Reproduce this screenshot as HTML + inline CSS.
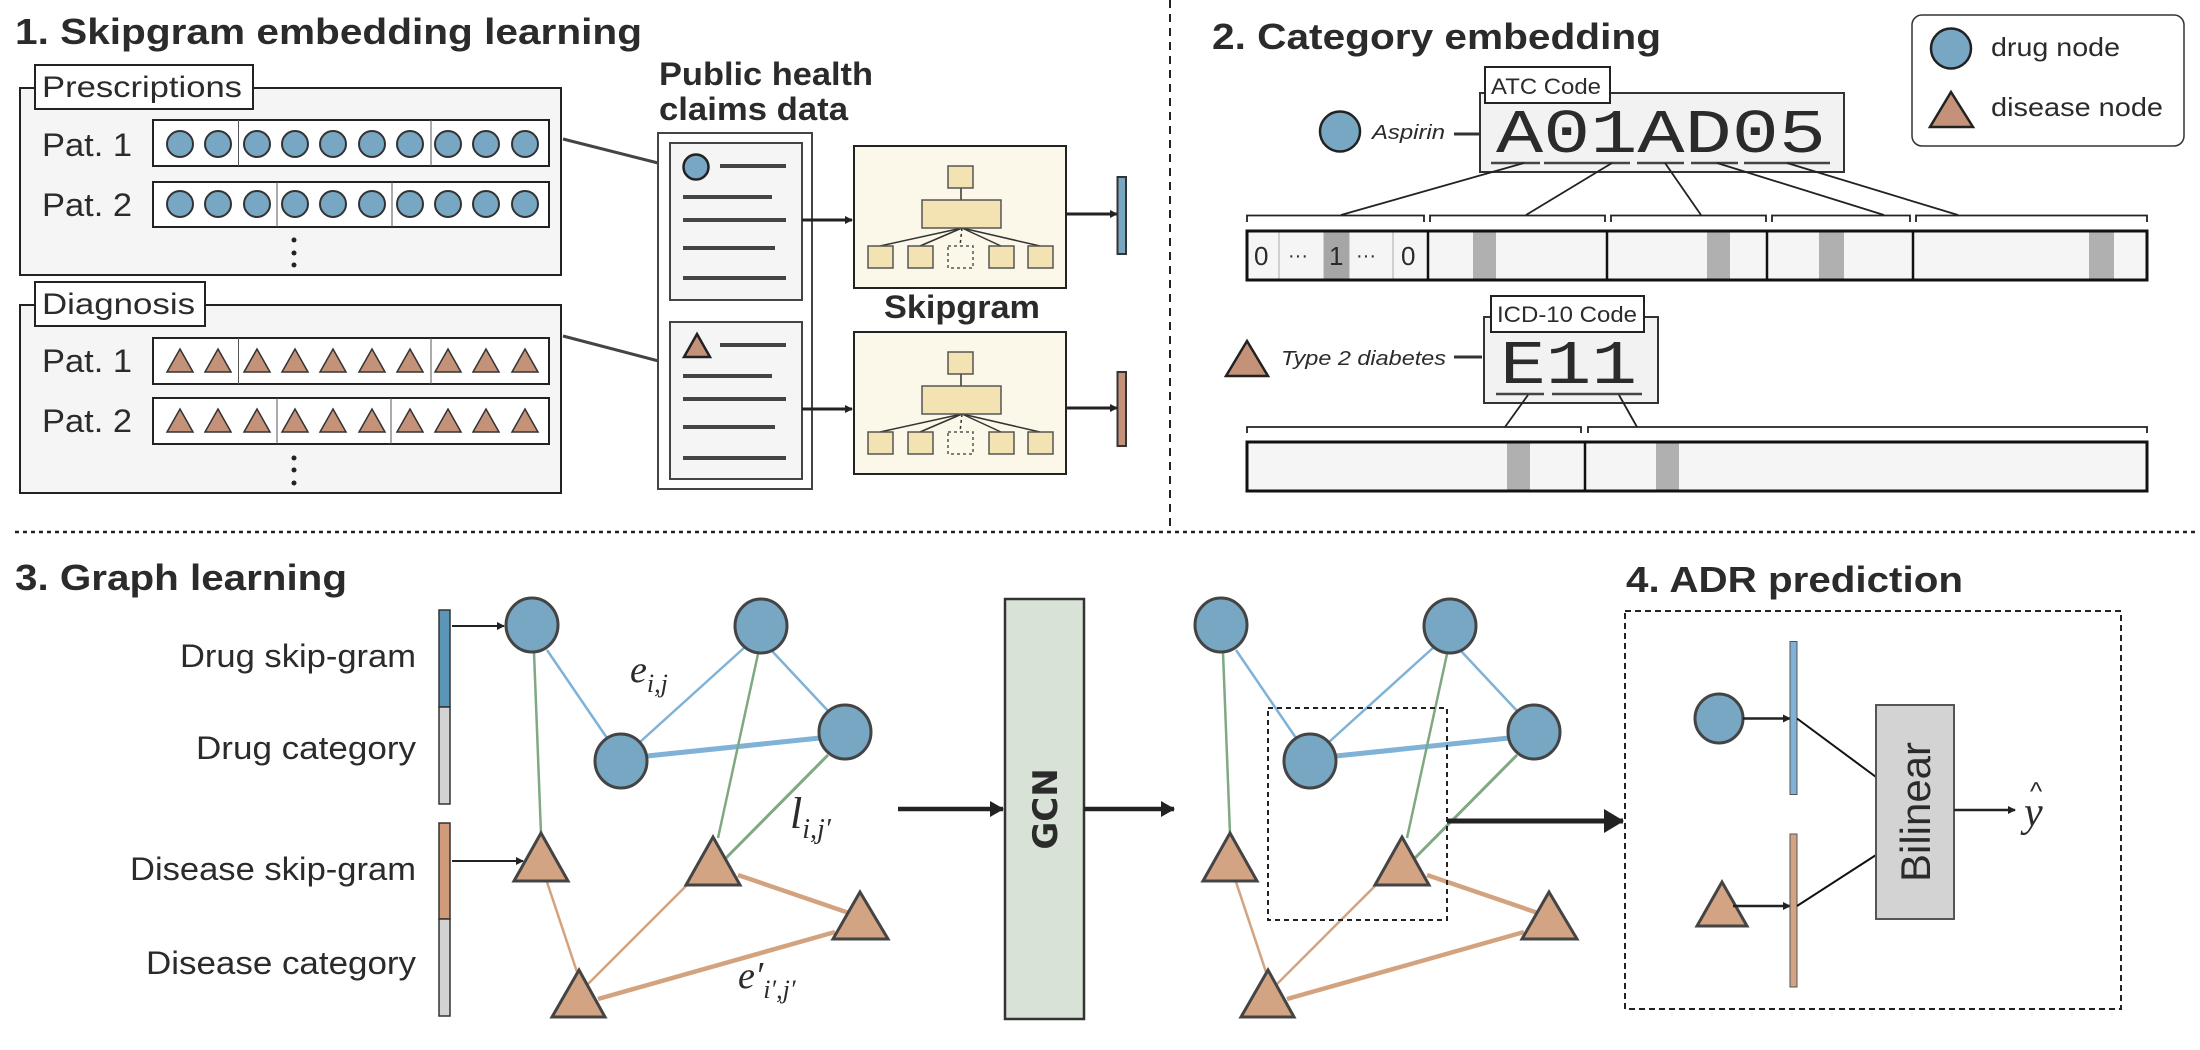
<!DOCTYPE html>
<html><head><meta charset="utf-8"><style>
html,body{margin:0;padding:0;background:#fff;}
svg{display:block;}
text{font-family:"Liberation Sans",sans-serif;fill:#2b2b2b;}
.t{font-weight:bold;font-size:36px;}
.m{font-family:"Liberation Serif",serif;font-style:italic;}
</style></head><body>
<svg width="2200" height="1050" viewBox="0 0 2200 1050" xmlns="http://www.w3.org/2000/svg">
<defs>
<marker id="ah" markerWidth="8" markerHeight="8" refX="7" refY="4" orient="auto" markerUnits="userSpaceOnUse"><path d="M0,0 L8,4 L0,8 z" fill="#222"/></marker>
<marker id="ahb" markerWidth="14" markerHeight="16" refX="13" refY="8" orient="auto" markerUnits="userSpaceOnUse"><path d="M0,0 L14,8 L0,16 z" fill="#222"/></marker>
<marker id="ahc" markerWidth="20" markerHeight="24" refX="19" refY="12" orient="auto" markerUnits="userSpaceOnUse"><path d="M0,0 L20,12 L0,24 z" fill="#222"/></marker>
<g id="circ"><circle r="13" fill="#77a7c2" stroke="#333" stroke-width="2"/></g>
<g id="tri"><path d="M0,-12 L13,11 L-13,11 z" fill="#c49278" stroke="#333" stroke-width="1.5"/></g>
</defs>

<line x1="1170" y1="0" x2="1170" y2="532" stroke="#222" stroke-width="2" stroke-dasharray="8,6"/>
<line x1="15" y1="532" x2="2195" y2="532" stroke="#222" stroke-width="2.5" stroke-dasharray="4,4"/>

<text class="t" x="15" y="44" textLength="627" lengthAdjust="spacingAndGlyphs">1. Skipgram embedding learning</text>

<rect x="20" y="88" width="541" height="187" fill="#f5f5f5" stroke="#222" stroke-width="2"/>
<rect x="35" y="65" width="218" height="44" fill="#fff" stroke="#222" stroke-width="2"/>
<text x="42" y="97" font-size="30" textLength="200" lengthAdjust="spacingAndGlyphs">Prescriptions</text>
<text x="42" y="156" font-size="32" textLength="90" lengthAdjust="spacingAndGlyphs">Pat. 1</text>
<text x="42" y="216" font-size="32" textLength="90" lengthAdjust="spacingAndGlyphs">Pat. 2</text>
<rect x="153" y="120" width="396" height="46" fill="#fff" stroke="#222" stroke-width="2"/>
<line x1="238.5" y1="120" x2="238.5" y2="166" stroke="#555"/><line x1="431" y1="120" x2="431" y2="166" stroke="#555"/>
<rect x="153" y="182" width="396" height="45" fill="#fff" stroke="#222" stroke-width="2"/>
<line x1="277" y1="182" x2="277" y2="227" stroke="#555"/><line x1="392" y1="182" x2="392" y2="227" stroke="#555"/>
<g>
<use href="#circ" x="180" y="144"/><use href="#circ" x="218" y="144"/><use href="#circ" x="257" y="144"/><use href="#circ" x="295" y="144"/><use href="#circ" x="333" y="144"/><use href="#circ" x="372" y="144"/><use href="#circ" x="410" y="144"/><use href="#circ" x="448" y="144"/><use href="#circ" x="486" y="144"/><use href="#circ" x="525" y="144"/>
<use href="#circ" x="180" y="204"/><use href="#circ" x="218" y="204"/><use href="#circ" x="257" y="204"/><use href="#circ" x="295" y="204"/><use href="#circ" x="333" y="204"/><use href="#circ" x="372" y="204"/><use href="#circ" x="410" y="204"/><use href="#circ" x="448" y="204"/><use href="#circ" x="486" y="204"/><use href="#circ" x="525" y="204"/>
</g>
<circle cx="294" cy="240" r="2.5" fill="#222"/><circle cx="294" cy="253" r="2.5" fill="#222"/><circle cx="294" cy="265" r="2.5" fill="#222"/>

<rect x="20" y="305" width="541" height="188" fill="#f5f5f5" stroke="#222" stroke-width="2"/>
<rect x="35" y="282" width="170" height="44" fill="#fff" stroke="#222" stroke-width="2"/>
<text x="42" y="314" font-size="30" textLength="153" lengthAdjust="spacingAndGlyphs">Diagnosis</text>
<text x="42" y="372" font-size="32" textLength="90" lengthAdjust="spacingAndGlyphs">Pat. 1</text>
<text x="42" y="432" font-size="32" textLength="90" lengthAdjust="spacingAndGlyphs">Pat. 2</text>
<rect x="153" y="338" width="396" height="46" fill="#fff" stroke="#222" stroke-width="2"/>
<line x1="238.5" y1="338" x2="238.5" y2="384" stroke="#555"/><line x1="431" y1="338" x2="431" y2="384" stroke="#555"/>
<rect x="153" y="398" width="396" height="46" fill="#fff" stroke="#222" stroke-width="2"/>
<line x1="277" y1="398" x2="277" y2="444" stroke="#555"/><line x1="391" y1="398" x2="391" y2="444" stroke="#555"/>
<g>
<use href="#tri" x="180" y="361"/><use href="#tri" x="218" y="361"/><use href="#tri" x="257" y="361"/><use href="#tri" x="295" y="361"/><use href="#tri" x="333" y="361"/><use href="#tri" x="372" y="361"/><use href="#tri" x="410" y="361"/><use href="#tri" x="448" y="361"/><use href="#tri" x="486" y="361"/><use href="#tri" x="525" y="361"/>
<use href="#tri" x="180" y="421"/><use href="#tri" x="218" y="421"/><use href="#tri" x="257" y="421"/><use href="#tri" x="295" y="421"/><use href="#tri" x="333" y="421"/><use href="#tri" x="372" y="421"/><use href="#tri" x="410" y="421"/><use href="#tri" x="448" y="421"/><use href="#tri" x="486" y="421"/><use href="#tri" x="525" y="421"/>
</g>
<circle cx="294" cy="458" r="2.5" fill="#222"/><circle cx="294" cy="470" r="2.5" fill="#222"/><circle cx="294" cy="483" r="2.5" fill="#222"/>

<line x1="563" y1="139" x2="670" y2="166" stroke="#444" stroke-width="3"/>
<line x1="563" y1="336" x2="670" y2="364" stroke="#444" stroke-width="3"/>

<text class="t" x="659" y="85" style="font-size:32px" textLength="214" lengthAdjust="spacingAndGlyphs">Public health</text>
<text class="t" x="659" y="120" style="font-size:32px" textLength="189" lengthAdjust="spacingAndGlyphs">claims data</text>
<rect x="658" y="133" width="154" height="356" fill="#fff" stroke="#444" stroke-width="2"/>
<rect x="670" y="143" width="132" height="157" fill="#f5f5f5" stroke="#444" stroke-width="2"/>
<circle cx="696" cy="167" r="12.5" fill="#77a7c2" stroke="#222" stroke-width="2.5"/>
<g stroke="#444" stroke-width="4">
<line x1="720" y1="166" x2="786" y2="166"/><line x1="683" y1="197" x2="772" y2="197"/><line x1="683" y1="220" x2="786" y2="220"/><line x1="683" y1="248" x2="775" y2="248"/><line x1="683" y1="278" x2="786" y2="278"/>
</g>
<rect x="670" y="322" width="132" height="157" fill="#f5f5f5" stroke="#444" stroke-width="2"/>
<path d="M697,334 L710,357 L684,357 z" fill="#c49278" stroke="#222" stroke-width="2.5"/>
<g stroke="#444" stroke-width="4">
<line x1="720" y1="345" x2="786" y2="345"/><line x1="683" y1="376" x2="772" y2="376"/><line x1="683" y1="399" x2="786" y2="399"/><line x1="683" y1="427" x2="775" y2="427"/><line x1="683" y1="458" x2="786" y2="458"/>
</g>
<line x1="802" y1="220" x2="852" y2="220" stroke="#222" stroke-width="3" marker-end="url(#ah)"/>
<line x1="802" y1="409" x2="852" y2="409" stroke="#222" stroke-width="3" marker-end="url(#ah)"/>

<g id="sg">
<rect x="854" y="146" width="212" height="142" fill="#fcf8e9" stroke="#222" stroke-width="2"/>
<g stroke="#333" stroke-width="1.5">
<line x1="961" y1="188" x2="961" y2="200"/>
<line x1="962" y1="228" x2="880" y2="246"/><line x1="962" y1="228" x2="920" y2="246"/><line x1="962" y1="228" x2="1001" y2="246"/><line x1="962" y1="228" x2="1040" y2="246"/>
<line x1="962" y1="228" x2="960" y2="246" stroke-dasharray="3,3"/>
</g>
<g fill="#f3e2b2" stroke="#555" stroke-width="1.5">
<rect x="948" y="166" width="25" height="22"/>
<rect x="922" y="200" width="79" height="28"/>
<rect x="868" y="246" width="25" height="22"/><rect x="908" y="246" width="25" height="22"/><rect x="989" y="246" width="25" height="22"/><rect x="1028" y="246" width="25" height="22"/>
</g>
<rect x="948" y="246" width="25" height="22" fill="none" stroke="#555" stroke-width="1.5" stroke-dasharray="3,3"/>
</g>
<use href="#sg" y="186"/>
<text class="t" x="884" y="318" style="font-size:32px" textLength="156" lengthAdjust="spacingAndGlyphs">Skipgram</text>
<line x1="1066" y1="214" x2="1117" y2="214" stroke="#222" stroke-width="3" marker-end="url(#ah)"/>
<line x1="1066" y1="408" x2="1117" y2="408" stroke="#222" stroke-width="3" marker-end="url(#ah)"/>
<rect x="1117.5" y="177" width="8.5" height="77" fill="#77a7c2" stroke="#333" stroke-width="2"/>
<rect x="1117.5" y="372" width="8.5" height="74" fill="#c49278" stroke="#333" stroke-width="2"/>

<text class="t" x="1212" y="49" textLength="449" lengthAdjust="spacingAndGlyphs">2. Category embedding</text>
<rect x="1912" y="15" width="272" height="131" rx="10" fill="#fff" stroke="#333" stroke-width="1.5"/>
<circle cx="1951" cy="48.5" r="20" fill="#77a7c2" stroke="#222" stroke-width="2.5"/>
<path d="M1951,92 L1973,127 L1930,127 z" fill="#c49278" stroke="#222" stroke-width="2.5"/>
<text x="1991" y="56" font-size="26" textLength="129" lengthAdjust="spacingAndGlyphs">drug node</text>
<text x="1991" y="116" font-size="26" textLength="172" lengthAdjust="spacingAndGlyphs">disease node</text>

<rect x="1480" y="93" width="364" height="79" fill="#f2f2f2" stroke="#333" stroke-width="2"/>
<rect x="1485" y="67" width="125" height="36" fill="#fff" stroke="#222" stroke-width="2"/>
<text x="1491" y="94" font-size="22" textLength="110" lengthAdjust="spacingAndGlyphs">ATC Code</text>
<text x="1496" y="152" style="font-family:'Liberation Mono',monospace" font-size="62" textLength="330" lengthAdjust="spacingAndGlyphs" fill="#222">A01AD05</text>
<g stroke="#444" stroke-width="2.5">
<line x1="1491" y1="163" x2="1540" y2="163"/><line x1="1544" y1="163" x2="1630" y2="163"/><line x1="1637" y1="163" x2="1684" y2="163"/><line x1="1691" y1="163" x2="1738" y2="163"/><line x1="1744" y1="163" x2="1830" y2="163"/>
</g>
<circle cx="1340" cy="131.5" r="20" fill="#77a7c2" stroke="#222" stroke-width="2.5"/>
<text x="1372" y="139" font-size="20" font-style="italic" textLength="73" lengthAdjust="spacingAndGlyphs">Aspirin</text>
<line x1="1454" y1="134" x2="1479" y2="134" stroke="#333" stroke-width="3"/>
<g stroke="#222" stroke-width="1.8" fill="none">
<line x1="1524" y1="163" x2="1341" y2="215"/><line x1="1612" y1="163" x2="1526" y2="215"/><line x1="1665" y1="163" x2="1701" y2="215"/><line x1="1717" y1="163" x2="1884" y2="215"/><line x1="1787" y1="163" x2="1958" y2="215"/>
<path d="M1247,222 V215.5 H1424 V222"/><path d="M1430,222 V215.5 H1605 V222"/><path d="M1611,222 V215.5 H1766 V222"/><path d="M1772,222 V215.5 H1910 V222"/><path d="M1916,222 V215.5 H2147 V222"/>
</g>
<rect x="1247" y="231" width="900" height="49" fill="#f5f5f5"/>
<rect x="1324" y="231" width="25" height="49" fill="#a6a6a6"/>
<g fill="#b0b0b0"><rect x="1473" y="231" width="23" height="49"/><rect x="1707" y="231" width="23" height="49"/><rect x="1819" y="231" width="25" height="49"/><rect x="2089" y="231" width="25" height="49"/></g>
<g stroke="#aaa" stroke-width="1"><line x1="1279" y1="231" x2="1279" y2="280"/><line x1="1324" y1="231" x2="1324" y2="280"/><line x1="1349" y1="231" x2="1349" y2="280"/><line x1="1393" y1="231" x2="1393" y2="280"/></g>
<rect x="1247" y="231" width="900" height="49" fill="none" stroke="#111" stroke-width="3"/>
<g stroke="#111" stroke-width="2.5"><line x1="1428" y1="231" x2="1428" y2="280"/><line x1="1607" y1="231" x2="1607" y2="280"/><line x1="1767" y1="231" x2="1767" y2="280"/><line x1="1913" y1="231" x2="1913" y2="280"/></g>
<g font-size="26"><text x="1254" y="265">0</text><text x="1288" y="262" font-size="20">···</text><text x="1329" y="265">1</text><text x="1356" y="262" font-size="20">···</text><text x="1401" y="265">0</text></g>

<rect x="1484" y="317" width="174" height="86" fill="#f2f2f2" stroke="#333" stroke-width="2"/>
<rect x="1491" y="296" width="153" height="36" fill="#fff" stroke="#222" stroke-width="2"/>
<text x="1497" y="322" font-size="22" textLength="140" lengthAdjust="spacingAndGlyphs">ICD-10 Code</text>
<text x="1500" y="383" style="font-family:'Liberation Mono',monospace" font-size="62" textLength="137" lengthAdjust="spacingAndGlyphs" fill="#222">E11</text>
<g stroke="#444" stroke-width="2.5"><line x1="1496" y1="394" x2="1544" y2="394"/><line x1="1552" y1="394" x2="1642" y2="394"/></g>
<path d="M1247,341 L1268,376 L1226,376 z" fill="#c49278" stroke="#222" stroke-width="2.5"/>
<text x="1281" y="365" font-size="20" font-style="italic" textLength="165" lengthAdjust="spacingAndGlyphs">Type 2 diabetes</text>
<line x1="1454" y1="357" x2="1482" y2="357" stroke="#333" stroke-width="3"/>
<g stroke="#222" stroke-width="1.8" fill="none">
<line x1="1528" y1="395" x2="1505" y2="427"/><line x1="1619" y1="395" x2="1637" y2="427"/>
<path d="M1247,433 V427 H1581 V433"/><path d="M1588,433 V427 H2147 V433"/>
</g>
<rect x="1247" y="442" width="900" height="49" fill="#f5f5f5"/>
<g fill="#b0b0b0"><rect x="1507" y="442" width="23" height="49"/><rect x="1656" y="442" width="23" height="49"/></g>
<rect x="1247" y="442" width="900" height="49" fill="none" stroke="#111" stroke-width="3"/>
<line x1="1585" y1="442" x2="1585" y2="491" stroke="#111" stroke-width="2.5"/>

<text class="t" x="15" y="590" textLength="332" lengthAdjust="spacingAndGlyphs">3. Graph learning</text>
<g font-size="32">
<text x="180" y="667" textLength="236" lengthAdjust="spacingAndGlyphs">Drug skip-gram</text>
<text x="196" y="759" textLength="220" lengthAdjust="spacingAndGlyphs">Drug category</text>
<text x="130" y="880" textLength="286" lengthAdjust="spacingAndGlyphs">Disease skip-gram</text>
<text x="146" y="974" textLength="270" lengthAdjust="spacingAndGlyphs">Disease category</text>
</g>
<rect x="439" y="610" width="11" height="97" fill="#5b95b8" stroke="#333" stroke-width="1.5"/>
<rect x="439" y="707" width="11" height="97" fill="#d3d3d3" stroke="#333" stroke-width="1.5"/>
<rect x="439" y="823" width="11" height="96" fill="#d19a78" stroke="#333" stroke-width="1.5"/>
<rect x="439" y="919" width="11" height="97" fill="#d3d3d3" stroke="#333" stroke-width="1.5"/>
<line x1="452" y1="626" x2="504" y2="626" stroke="#222" stroke-width="2" marker-end="url(#ah)"/>
<line x1="452" y1="861" x2="523" y2="861" stroke="#222" stroke-width="2" marker-end="url(#ah)"/>

<g id="graph">
<g fill="none">
<line x1="547" y1="650" x2="607" y2="738" stroke="#7fb2d6" stroke-width="2.5"/>
<line x1="745" y1="647" x2="640" y2="742" stroke="#7fb2d6" stroke-width="2.5"/>
<line x1="772" y1="651" x2="830" y2="713" stroke="#7fb2d6" stroke-width="2.5"/>
<line x1="647" y1="756" x2="820" y2="738" stroke="#7fb2d6" stroke-width="5"/>
<line x1="534" y1="652" x2="541" y2="834" stroke="#80a882" stroke-width="2.5"/>
<line x1="758" y1="654" x2="718" y2="838" stroke="#80a882" stroke-width="2.5"/>
<line x1="828" y1="755" x2="726" y2="858" stroke="#80a882" stroke-width="3"/>
<line x1="547" y1="882" x2="577" y2="972" stroke="#d3a380" stroke-width="2.5"/>
<line x1="688" y1="884" x2="588" y2="984" stroke="#d3a380" stroke-width="2.5"/>
<line x1="738" y1="875" x2="849" y2="913" stroke="#d3a380" stroke-width="4.5"/>
<line x1="598" y1="999" x2="835" y2="932" stroke="#d3a380" stroke-width="4.5"/>
</g>
<g fill="#77a7c2" stroke="#444" stroke-width="3">
<ellipse cx="532" cy="625" rx="26" ry="27"/><ellipse cx="761" cy="626" rx="26" ry="27"/><ellipse cx="621" cy="761" rx="26" ry="27"/><ellipse cx="845" cy="732" rx="26" ry="27"/>
</g>
<g fill="#d3a484" stroke="#444" stroke-width="3">
<path d="M541,833 L568,881 L514,881 z"/><path d="M713,837 L740,885 L686,885 z"/><path d="M860,892 L888,939 L833,939 z"/><path d="M579,970 L605,1017 L552,1017 z"/>
</g>
</g>
<text class="m" x="630" y="682" font-size="38">e<tspan font-size="26" dy="10">i,j</tspan></text>
<text class="m" x="790" y="828" font-size="44">l<tspan font-size="28" dy="10">i,j′</tspan></text>
<text class="m" x="738" y="988" font-size="38">e′<tspan font-size="26" dy="10">i′,j′</tspan></text>

<line x1="898" y1="809" x2="1003" y2="809" stroke="#222" stroke-width="4.5" marker-end="url(#ahb)"/>
<rect x="1005" y="599" width="79" height="420" fill="#d8e2d6" stroke="#333" stroke-width="2.5"/>
<text class="t" transform="translate(1057,809) rotate(-90)" text-anchor="middle" style="font-size:34px;font-family:'DejaVu Sans','Liberation Sans',sans-serif">GCN</text>
<line x1="1084" y1="809" x2="1174" y2="809" stroke="#222" stroke-width="4.5" marker-end="url(#ahb)"/>

<use href="#graph" x="689"/>
<rect x="1268" y="708" width="179" height="212" fill="none" stroke="#222" stroke-width="2" stroke-dasharray="5,4"/>
<line x1="1447" y1="821" x2="1623" y2="821" stroke="#222" stroke-width="5" marker-end="url(#ahc)"/>

<text class="t" x="1626" y="592" textLength="337" lengthAdjust="spacingAndGlyphs">4. ADR prediction</text>
<rect x="1625" y="611" width="496" height="398" fill="none" stroke="#222" stroke-width="2" stroke-dasharray="6,4"/>
<ellipse cx="1719" cy="718.5" rx="24" ry="24.5" fill="#77a7c2" stroke="#444" stroke-width="3"/>
<line x1="1743" y1="718.5" x2="1790" y2="718.5" stroke="#222" stroke-width="2.5" marker-end="url(#ah)"/>
<rect x="1790" y="641.5" width="7" height="153" fill="#7fb2d6" stroke="#555" stroke-width="1"/>
<path d="M1722,882 L1747,926 L1697,926 z" fill="#d3a484" stroke="#444" stroke-width="3"/>
<line x1="1733" y1="906" x2="1790" y2="906" stroke="#222" stroke-width="2.5" marker-end="url(#ah)"/>
<rect x="1790" y="834" width="7" height="153" fill="#d3a484" stroke="#555" stroke-width="1"/>
<line x1="1797" y1="718.5" x2="1876" y2="777" stroke="#111" stroke-width="2"/>
<line x1="1797" y1="906" x2="1876" y2="855" stroke="#111" stroke-width="2"/>
<rect x="1876" y="705" width="78" height="214" fill="#d3d3d3" stroke="#555" stroke-width="2"/>
<text transform="translate(1930,812) rotate(-90)" text-anchor="middle" font-size="42" textLength="140" lengthAdjust="spacingAndGlyphs">Bilinear</text>
<line x1="1954" y1="810" x2="2015" y2="810" stroke="#222" stroke-width="2.5" marker-end="url(#ah)"/>
<text class="m" x="2024" y="826" font-size="42">y</text>
<text x="2030" y="800" font-size="26" font-family="Liberation Serif,serif">^</text>
</svg>
</body></html>
